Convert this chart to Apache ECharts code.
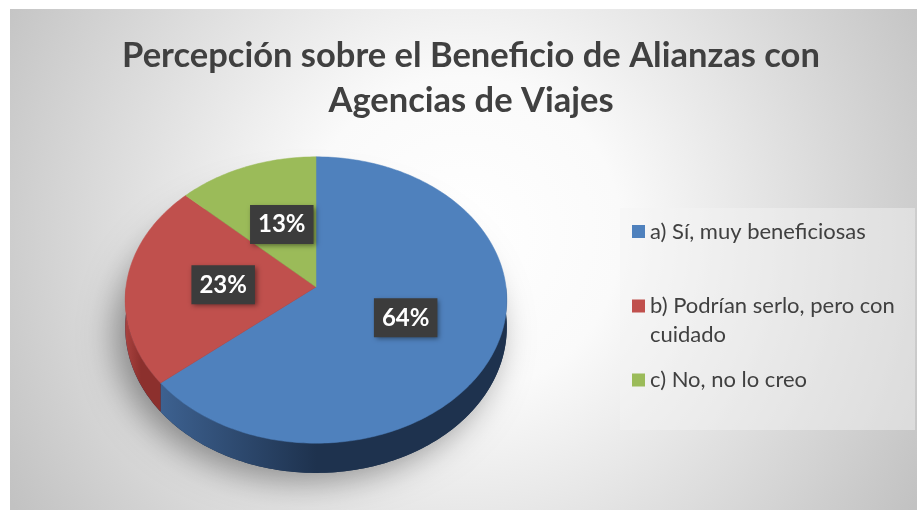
<!DOCTYPE html>
<html>
<head>
<meta charset="utf-8">
<script src="https://cdn.jsdelivr.net/npm/echarts@6/dist/echarts.min.js"></script>
<style>
  html, body { margin: 0; padding: 0; background: #fff; }
  #chart { width: 917px; height: 510px; }
</style>
</head>
<body>
<div id="chart"></div>
<script>
// datos
const categories = ['a) Sí, muy beneficiosas', 'b) Podrían serlo, pero con cuidado', 'c) No, no lo creo']
const values = [64, 23, 13]
const topColors = ['#4f81bd', '#c0504d', '#9bbb59']
const sideColors = [['#3d6190', '#1e324e'], ['#a9423f', '#8c302d'], ['#7e9b46', '#637b36']]

const total = values.reduce((a, b) => a + b, 0)

// pie layout (perspective ellipse)
const CX = 316
const CY = 287
const RX = 190
const RY = 142
const K = 0.0909
const DEPTH = 27

function proj(theta, r, dz) {
  const u = r * Math.sin(theta)
  const v = -r * Math.cos(theta)
  const s = 1 / (1 - K * v)
  return [CX + RX * u * s, CY + (RY * v + dz) * s]
}

function arc(a0, a1, dz) {
  const pts = []
  const n = Math.max(2, Math.ceil(Math.abs(a1 - a0) / (Math.PI / 180)))
  for (let k = 0; k <= n; k++) {
    pts.push(proj(a0 + (a1 - a0) * k / n, 1, dz))
  }
  return pts
}

function renderItem(params, api) {
  const i = params.seriesIndex
  let before = 0
  for (let j = 0; j < i; j++) before += values[j]
  const a0 = before / total * Math.PI * 2
  const a1 = (before + api.value(0)) / total * Math.PI * 2
  const children = []

  if (i === 0) {
    // sombra bajo el pastel
    children.push({
      type: 'polygon',
      shape: { points: arc(0, Math.PI * 2, DEPTH) },
      style: { fill: sideColors[0][1], shadowBlur: 34, shadowColor: 'rgba(0,0,0,0.4)', shadowOffsetX: -10, shadowOffsetY: 8 },
      z2: 0
    })
  }

  // pared lateral visible (mitad frontal)
  const lo = Math.max(a0, Math.PI / 2)
  const hi = Math.min(a1, Math.PI * 1.5)
  if (lo < hi) {
    const pts = arc(lo, hi, 0).concat(arc(hi, lo, DEPTH))
    children.push({
      type: 'polygon',
      shape: { points: pts },
      style: {
        fill: new echarts.graphic.LinearGradient(1, 0, 0, 0, [
          { offset: 0, color: sideColors[i][1] },
          { offset: 0.55, color: sideColors[i][1] },
          { offset: 1, color: sideColors[i][0] }
        ])
      },
      z2: 5
    })
  }

  // cara superior
  children.push({
    type: 'polygon',
    shape: { points: [[CX, CY]].concat(arc(a0, a1, 0)) },
    style: { fill: topColors[i], stroke: topColors[i], lineWidth: 0.5 },
    z2: 10
  })

  // etiqueta de porcentaje
  const p = proj((a0 + a1) / 2, 0.5, 0)
  children.push({
    type: 'text',
    x: p[0] + 2,
    y: p[1],
    style: {
      text: Math.round(api.value(0) / total * 100) + '%',
      fill: '#ffffff',
      fontFamily: 'Lato',
      fontWeight: 'bold',
      fontSize: 24,
      align: 'center',
      verticalAlign: 'middle',
      backgroundColor: '#3c3c3c',
      padding: [8, 8, 7, 8],
      shadowBlur: 5,
      shadowColor: 'rgba(0,0,0,0.45)',
      shadowOffsetX: 2,
      shadowOffsetY: 2
    },
    z2: 20
  })

  return { type: 'group', children: children }
}

const legendText = { fontFamily: 'Lato', fontSize: 22, color: '#404040', lineHeight: 29 }

const option = {
  animation: false,
  title: {
    text: 'Percepción sobre el Beneficio de Alianzas con\nAgencias de Viajes',
    left: 466,
    top: 28,
    textAlign: 'center',
    textStyle: {
      fontFamily: 'Lato',
      fontWeight: 'bold',
      fontSize: 34.5,
      lineHeight: 45,
      color: '#404040'
    }
  },
  graphic: [
    {
      type: 'rect',
      shape: { x: 10, y: 9, width: 907, height: 501 },
      style: {
        fill: new echarts.graphic.RadialGradient(0.5, 0.45, 1.05, [
          { offset: 0, color: '#ffffff' },
          { offset: 0.3, color: '#fafafa' },
          { offset: 1, color: '#c2c2c2' }
        ])
      },
      z: -10
    },
    {
      type: 'rect',
      shape: { x: 620, y: 208, width: 295, height: 222 },
      style: { fill: 'rgba(245,245,245,0.45)' },
      z: -9
    }
  ],
  legend: [
    {
      data: [categories[0]], left: 627, top: 212, icon: 'rect',
      itemWidth: 13, itemHeight: 13, selectedMode: false, textStyle: legendText
    },
    {
      data: [categories[1]], left: 627, top: 286.5, icon: 'path://M0,0L13,0L13,13L0,13Z M0,42L0.01,42',
      itemWidth: 13, itemHeight: 42, selectedMode: false,
      textStyle: Object.assign({ width: 285, overflow: 'break' }, legendText)
    },
    {
      data: [categories[2]], left: 627, top: 360.5, icon: 'rect',
      itemWidth: 13, itemHeight: 13, selectedMode: false, textStyle: legendText
    }
  ],
  series: categories.map((name, i) => ({
    type: 'custom',
    name: name,
    coordinateSystem: 'none',
    renderItem: renderItem,
    itemStyle: { color: topColors[i] },
    data: [[values[i]]]
  }))
}

const myChart = echarts.init(document.getElementById('chart'))
myChart.setOption(option)
window.addEventListener('resize', function() {
  myChart.resize()
})
</script>
</body>
</html>
